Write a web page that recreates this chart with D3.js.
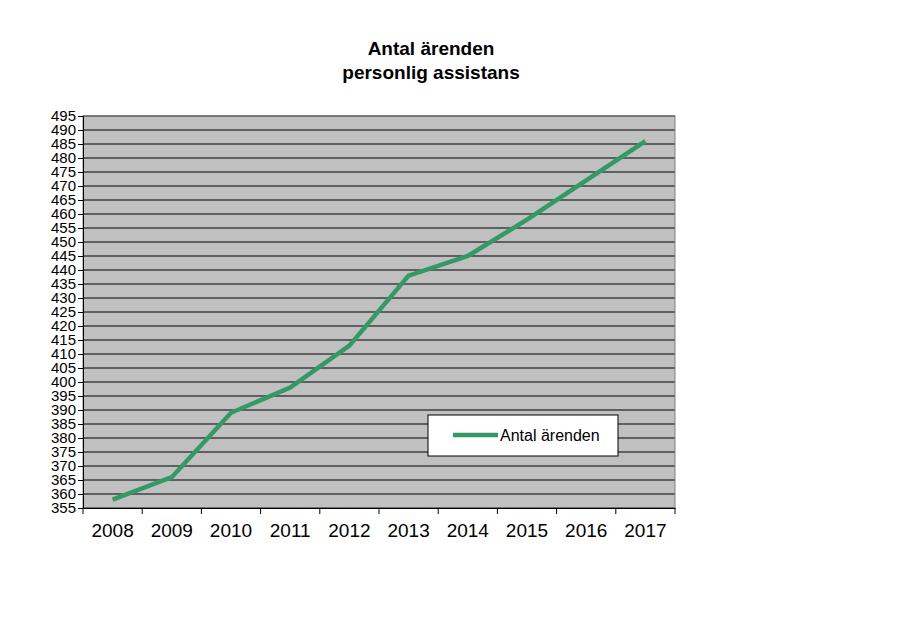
<!DOCTYPE html>
<html><head><meta charset="utf-8">
<script src="https://cdn.jsdelivr.net/npm/d3@7/dist/d3.min.js"></script>
<style>body{margin:0;background:#fff}</style></head>
<body><svg id="c" width="897" height="641"></svg>
<script>
const years = ["2008","2009","2010","2011","2012","2013","2014","2015","2016","2017"];
const values = [358,366,389,398,413,438,445,458,472,486];
const seriesName = "Antal ärenden";
const titleLines = ["Antal ärenden","personlig assistans"];

const svg = d3.select("#c");
const L=83,R=675,T=116,B=508;
const x = d3.scaleBand().domain(years).range([L,R]);
const y = d3.scaleLinear().domain([355,495]).range([B,T]);
const font = "Liberation Sans, Arial, sans-serif";

svg.append("rect").attr("x",L).attr("y",T).attr("width",R-L).attr("height",B-T).attr("fill","#c0c0c0");
const ticks = d3.range(355,496,5);
svg.append("g").selectAll("line").data(ticks).join("line")
 .attr("x1",L).attr("x2",R).attr("y1",d=>y(d)).attr("y2",d=>y(d)).attr("stroke","#000").attr("stroke-width",1);
svg.append("rect").attr("x",L).attr("y",T).attr("width",R-L).attr("height",B-T).attr("fill","none").attr("stroke","#808080");

const ya = svg.append("g").attr("transform",`translate(${L},0)`).call(d3.axisLeft(y).tickValues(ticks).tickSize(5).tickPadding(2));
ya.selectAll("text").attr("font-family",font).attr("font-size",15).attr("fill","#000");
ya.select(".domain").attr("stroke","#000");
const xa = svg.append("g").attr("transform",`translate(0,${B})`).call(d3.axisBottom(x).tickSize(0).tickPadding(16));
xa.selectAll("text").attr("font-family",font).attr("font-size",19).attr("fill","#000");
xa.select(".domain").attr("stroke","#000");
svg.append("g").selectAll("line").data(d3.range(years.length+1)).join("line")
 .attr("x1",i=>L+i*x.step()).attr("x2",i=>L+i*x.step()).attr("y1",B).attr("y2",B+6).attr("stroke","#000");

svg.append("path").datum(values).attr("fill","none").attr("stroke","#339966").attr("stroke-width",4.5)
 .attr("d",d3.line().x((d,i)=>x(years[i])+x.bandwidth()/2).y(d=>y(d)));

svg.selectAll(".t").data(titleLines).join("text").attr("x",431).attr("y",(d,i)=>55+i*24)
 .attr("text-anchor","middle").attr("font-family",font).attr("font-weight","bold").attr("font-size",19).text(d=>d);

svg.append("rect").attr("x",428).attr("y",415).attr("width",190).attr("height",41).attr("fill","#fff").attr("stroke","#000");
svg.append("line").attr("x1",453).attr("x2",498).attr("y1",435).attr("y2",435).attr("stroke","#339966").attr("stroke-width",4.5);
svg.append("text").attr("x",500).attr("y",441).attr("font-family",font).attr("font-size",16).text(seriesName);
</script></body></html>
